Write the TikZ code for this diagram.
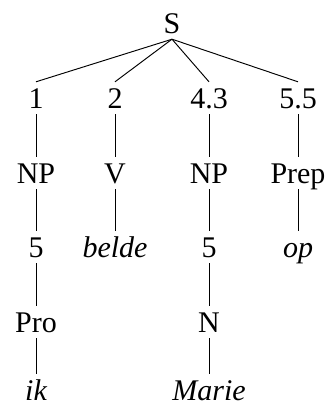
\documentclass[tikz,border=0pt]{standalone}
\usepackage{fontspec}
\setmainfont{Liberation Serif}
\begin{document}
\begin{tikzpicture}[x=1pt,y=-1pt,
  lbl/.style={anchor=base,inner sep=0pt,text height=26pt,text depth=6pt,font=\fontsize{30}{32}\selectfont},
  leaf/.style={lbl,text depth=1pt},
  edge/.style={line width=0.95pt}]
\useasboundingbox (0,0) rectangle (332,407);
% root
\node[lbl] (S) at (172,33) {S};
% first level
\node[lbl] (c1) at (36,108) {1};
\node[lbl] (c2) at (115,108) {2};
\node[lbl] (c3) at (209,108) {4.3};
\node[lbl] (c4) at (298,108) {5.5};
% categories
\node[lbl] (np1) at (36,183) {NP};
\node[lbl] (v) at (115,183) {V};
\node[lbl] (np2) at (209,183) {NP};
\node[lbl] (prep) at (298,183) {Prep};
% third level
\node[lbl] (f1) at (36,257) {5};
\node[lbl] (belde) at (115,257) {\itshape belde};
\node[lbl] (f2) at (209,257) {5};
\node[lbl] (op) at (298,257) {\itshape op};
% fourth level
\node[lbl] (pro) at (36,332) {Pro};
\node[lbl] (n) at (209,332) {N};
% leaves
\node[leaf] (ik) at (36,400) {\itshape ik};
\node[leaf] (marie) at (209,400) {\itshape Marie};
% connectors
\foreach \c in {c1,c2,c3,c4} \draw[edge] (S.south) -- (\c.north);
\draw[edge] (c1.south) -- (np1.north);
\draw[edge] (c2.south) -- (v.north);
\draw[edge] (c3.south) -- (np2.north);
\draw[edge] (c4.south) -- (prep.north);
\draw[edge] (np1.south) -- (f1.north);
\draw[edge] (v.south) -- (belde.north);
\draw[edge] (np2.south) -- (f2.north);
\draw[edge] (prep.south) -- (op.north);
\draw[edge] (f1.south) -- (pro.north);
\draw[edge] (f2.south) -- (n.north);
\draw[edge] (pro.south) -- (ik.north);
\draw[edge] (n.south) -- (marie.north);
\end{tikzpicture}
\end{document}
